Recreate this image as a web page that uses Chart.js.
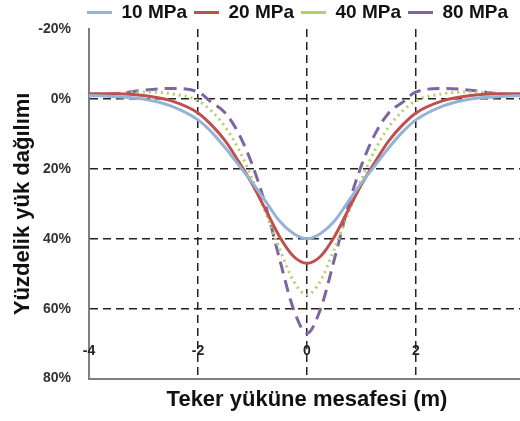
<!DOCTYPE html>
<html>
<head>
<meta charset="utf-8">
<script src="https://cdn.jsdelivr.net/npm/chart.js@4.4.0/dist/chart.umd.min.js"></script>
<style>
  body { margin: 0; overflow: hidden; background: #fff; }
</style>
</head>
<body>
<canvas id="c" width="530" height="421"></canvas>
<script>
// distance from wheel load (m)
const distances = [-4, -3.5, -3, -2.5, -2, -1.75, -1.5, -1.25, -1, -0.75, -0.5, -0.25, 0,
                   0.25, 0.5, 0.75, 1, 1.25, 1.5, 1.75, 2, 2.5, 3, 3.5, 4];

// percent load distribution per subgrade modulus
const mpa10 = [-1, -0.6, 0, 2, 6, 9.5, 14, 19, 24, 29.5, 35, 38.5, 40,
               38.5, 35, 29.5, 24, 19, 14, 9.5, 6, 2, 0, -0.6, -1];
const mpa20 = [-1.5, -1.5, -1, 0.5, 4, 7.5, 12, 18, 24.5, 32, 39.5, 45, 47,
               45, 39.5, 32, 24.5, 18, 12, 7.5, 4, 0.5, -1, -1.5, -1.5];
const mpa40 = [-1, -1.5, -2, -1.5, 0.5, 3.5, 8, 14.5, 23, 33, 43, 52, 56,
               52, 43, 33, 23, 14.5, 8, 3.5, 0.5, -1.5, -2, -1.5, -1];
const mpa80 = [-1, -1.5, -2.5, -3, -2, 1, 4, 10, 19, 31, 46, 60, 67,
               60, 46, 31, 19, 10, 4, 1, -2, -3, -2.5, -1.5, -1];

const seriesNames = ['10 MPa', '20 MPa', '40 MPa', '80 MPa'];
const xTicks = [-4, -2, 0, 2, 4];

Chart.defaults.font.family = '"Liberation Sans", Arial, sans-serif';

function pts(arr) {
    return distances.map((d, i) => ({ x: d, y: arr[i] }));
}

// x tick labels sit inside the plot, just above the bottom axis
const xLabelsPlugin = {
    id: 'xLabels',
    afterLayout(chart) {
        // legend is centred over the right part of the figure
        chart.legend.left = 70;
        chart.legend.top += 3;
    },
    afterDatasetsDraw(chart) {
        const ctx = chart.ctx;
        const xs = chart.scales.x;
        const y = chart.chartArea.bottom - 27;
        ctx.save();
        ctx.font = 'bold 14px "Liberation Sans", Arial, sans-serif';
        ctx.fillStyle = '#222';
        ctx.textAlign = 'center';
        ctx.textBaseline = 'middle';
        xTicks.forEach(v => ctx.fillText(String(v), xs.getPixelForValue(v), y));
        ctx.restore();
    }
};

new Chart(document.getElementById('c'), {
    type: 'line',
    data: {
        datasets: [
            { label: seriesNames[0], data: pts(mpa10), borderColor: '#93b3d7', borderWidth: 3 },
            { label: seriesNames[1], data: pts(mpa20), borderColor: '#c0504d', borderWidth: 3 },
            { label: seriesNames[2], data: pts(mpa40), borderColor: '#b3cf6b', borderWidth: 3, borderDash: [2, 4] },
            { label: seriesNames[3], data: pts(mpa80), borderColor: '#7f64a2', borderWidth: 3, borderDash: [12, 7] }
        ]
    },
    options: {
        responsive: false,
        animation: false,
        layout: { padding: { top: -7, right: 5, left: 0, bottom: 4 } },
        elements: {
            point: { radius: 0 },
            line: { cubicInterpolationMode: 'monotone', fill: false }
        },
        plugins: {
            tooltip: { enabled: false },
            legend: {
                position: 'top',
                labels: {
                    usePointStyle: true,
                    pointStyle: 'line',
                    pointStyleWidth: 25,
                    padding: 7,
                    color: '#111',
                    font: { size: 19, weight: 'bold' }
                }
            }
        },
        scales: {
            x: {
                type: 'linear',
                min: -4,
                max: 4,
                ticks: { stepSize: 2, display: false },
                grid: {
                    drawTicks: false,
                    lineWidth: 1.5,
                    color: c => c.tick && c.tick.value === -4 ? 'rgba(0,0,0,0)' : '#222'
                },
                border: { display: true, color: '#7f7f7f', width: 2, dash: [8, 5] },
                title: {
                    display: true,
                    text: 'Teker yüküne mesafesi (m)',
                    color: '#111',
                    font: { size: 22, weight: 'bold' },
                    padding: { top: 8, bottom: 4 }
                }
            },
            y: {
                reverse: true,
                min: -20,
                max: 80,
                afterFit(scale) { scale.width = 89; },
                ticks: {
                    stepSize: 20,
                    padding: 18,
                    color: '#333',
                    font: { size: 14, weight: 'bold' },
                    callback: v => v + '%'
                },
                grid: {
                    drawTicks: false,
                    lineWidth: 1.5,
                    color: c => c.tick && (c.tick.value === -20 || c.tick.value === 80) ? 'rgba(0,0,0,0)' : '#222'
                },
                border: { display: true, color: '#7f7f7f', width: 2, dash: [8, 5] },
                title: {
                    display: true,
                    text: 'Yüzdelik yük dağılımı',
                    color: '#111',
                    font: { size: 22, weight: 'bold', lineHeight: 1 },
                    padding: { top: 12, bottom: 4 }
                }
            }
        }
    },
    plugins: [xLabelsPlugin]
});
</script>
</body>
</html>
